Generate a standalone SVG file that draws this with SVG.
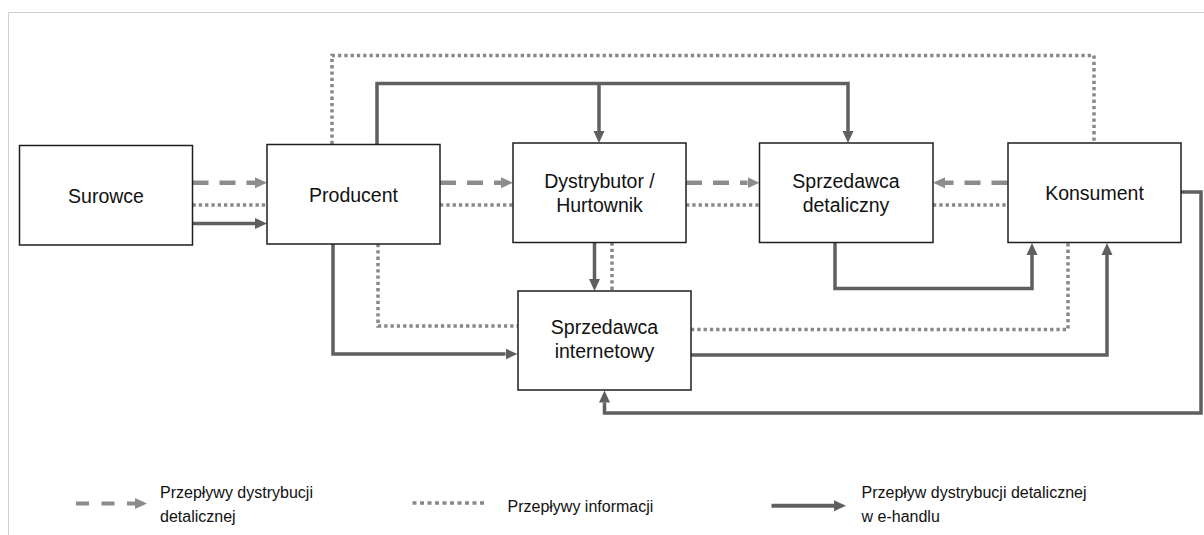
<svg xmlns="http://www.w3.org/2000/svg" width="1204" height="535" viewBox="0 0 1204 535">
  <style>
    .box { fill: #ffffff; stroke: #1e1e1e; stroke-width: 1.5; }
    .lbl { font-family: "Liberation Sans", Arial, sans-serif; font-size: 19.5px; fill: #111111; text-anchor: middle; }
    .leg { font-family: "Liberation Sans", Arial, sans-serif; font-size: 16px; fill: #111111; }
    .solid { fill: none; stroke: #5f5f5f; stroke-width: 3.5; }
    .dash { fill: none; stroke: #8c8c8c; stroke-width: 4.5; stroke-dasharray: 16 11; }
    .dot { fill: none; stroke: #888888; stroke-width: 3.5; stroke-dasharray: 3.3 3; }
    .frame { fill: none; stroke: #cfcfcf; stroke-width: 1; }
  </style>
  <defs>
    <marker id="headSolid" markerUnits="userSpaceOnUse" markerWidth="12" markerHeight="12" viewBox="0 0 12 12" refX="0" refY="6" orient="auto">
      <path d="M0,0.5 L12,6 L0,11.5 z" fill="#5f5f5f"/>
    </marker>
    <marker id="headGray" markerUnits="userSpaceOnUse" markerWidth="12" markerHeight="12" viewBox="0 0 12 12" refX="0" refY="6" orient="auto">
      <path d="M0,0.5 L12,6 L0,11.5 z" fill="#8c8c8c"/>
    </marker>
  </defs>

  <rect width="1204" height="535" fill="#ffffff"/>
  <!-- page frame -->
  <path class="frame" d="M8.5 535 V12.5 H1204"/>

  <!-- connectors -->
  <g id="connectors">
    <!-- retail distribution flows (dashed) -->
    <path class="dash" d="M192.5 182.7 H255" marker-end="url(#headGray)"/>
    <path class="dash" d="M440 182.7 H501" marker-end="url(#headGray)"/>
    <path class="dash" d="M686 182.7 H747.5" marker-end="url(#headGray)"/>
    <path class="dash" d="M1007.5 182.7 H945" marker-end="url(#headGray)"/>

    <!-- information flows (dotted) -->
    <path class="dot" d="M192.5 205 H267"/>
    <path class="dot" d="M440 205 H513"/>
    <path class="dot" d="M686 205 H759"/>
    <path class="dot" d="M933 205 H1008"/>
    <path class="dot" d="M332 144 V55.5 H1094 V143"/>
    <path class="dot" d="M612 242.5 V291"/>
    <path class="dot" d="M378 244 V326 H517.5"/>
    <path class="dot" d="M691 329.5 H1068 V242.5"/>

    <!-- e-commerce retail distribution flows (solid) -->
    <path class="solid" d="M192.5 223.5 H255" marker-end="url(#headSolid)"/>
    <path class="solid" d="M377 144 V83.5 H848 V131" marker-end="url(#headSolid)"/>
    <path class="solid" d="M599 83.5 V131" marker-end="url(#headSolid)"/>
    <path class="solid" d="M594.5 242.5 V279" marker-end="url(#headSolid)"/>
    <path class="solid" d="M333 244 V354 H505.5" marker-end="url(#headSolid)"/>
    <path class="solid" d="M691 355 H1107 V255" marker-end="url(#headSolid)"/>
    <path class="solid" d="M835 242.5 V288.5 H1032 V255" marker-end="url(#headSolid)"/>
    <path class="solid" d="M1181 192 H1201 V413 H604.5 V402.5" marker-end="url(#headSolid)"/>
  </g>

  <!-- nodes -->
  <g id="surowce">
    <rect class="box" x="19.5" y="145.5" width="173" height="99.5"/>
    <text class="lbl" x="106" y="202.5">Surowce</text>
  </g>
  <g id="producent">
    <rect class="box" x="267" y="144.5" width="173" height="99.5"/>
    <text class="lbl" x="353.5" y="201.5">Producent</text>
  </g>
  <g id="dystrybutor">
    <rect class="box" x="513" y="143" width="173" height="99.5"/>
    <text class="lbl" x="599.5" y="187.5">Dystrybutor /</text>
    <text class="lbl" x="599.5" y="211.5">Hurtownik</text>
  </g>
  <g id="sprzedawca-detaliczny">
    <rect class="box" x="759.5" y="143" width="173.5" height="99.5"/>
    <text class="lbl" x="846" y="187.5">Sprzedawca</text>
    <text class="lbl" x="846" y="211.5">detaliczny</text>
  </g>
  <g id="konsument">
    <rect class="box" x="1008" y="143" width="173" height="99.5"/>
    <text class="lbl" x="1094.5" y="200">Konsument</text>
  </g>
  <g id="sprzedawca-internetowy">
    <rect class="box" x="518" y="291" width="173" height="99"/>
    <text class="lbl" x="604.5" y="334">Sprzedawca</text>
    <text class="lbl" x="604.5" y="358">internetowy</text>
  </g>

  <!-- legend -->
  <g id="legend">
    <path class="dash" d="M76 503.5 H135" style="stroke-dasharray: 13 12.5; stroke-width: 4" marker-end="url(#headGray)"/>
    <text class="leg" x="160" y="497.5">Przepływy dystrybucji</text>
    <text class="leg" x="160" y="521.5">detalicznej</text>

    <path class="dot" d="M412.5 503 H487" style="stroke-dasharray: 4 3.5"/>
    <text class="leg" x="507.5" y="511.5">Przepływy informacji</text>

    <path class="solid" d="M771.5 505.7 H834" style="stroke-width: 4" marker-end="url(#headSolid)"/>
    <text class="leg" x="861.5" y="498">Przepływ dystrybucji detalicznej</text>
    <text class="leg" x="861.5" y="522">w e-handlu</text>
  </g>
</svg>
